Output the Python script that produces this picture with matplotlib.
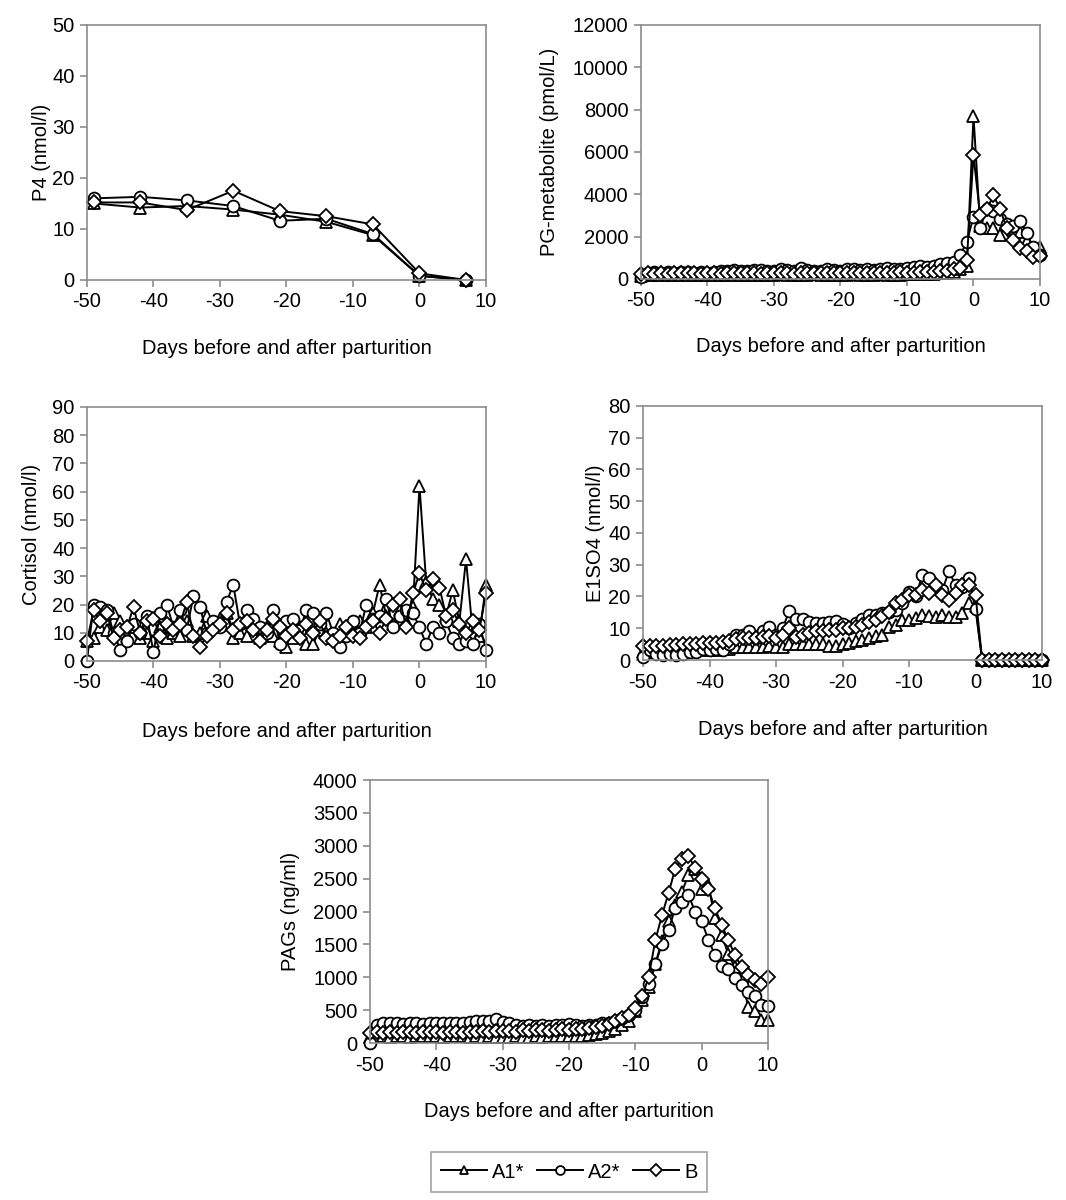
import matplotlib
matplotlib.use("Agg")
import matplotlib.pyplot as plt
from matplotlib.lines import Line2D

plt.rcParams['font.family'] = ['Liberation Sans', 'DejaVu Sans']
plt.rcParams['axes.unicode_minus'] = False

# -----------------------------
# Data
# -----------------------------
days = list(range(-50, 11))
days_p4 = [-49, -42, -35, -28, -21, -14, -7, 0, 7]

p4_a1 = [15.0, 14.2, 14.5, 13.8, 12.8, 11.4, 8.8, 0.8, 0.0]
p4_a2 = [16.0, 16.3, 15.6, 14.5, 11.6, 12.0, 9.0, 0.8, 0.0]
p4_b = [15.2, 15.2, 13.7, 17.5, 13.5, 12.5, 10.9, 1.3, 0.0]

pg_a1 = [150, 200, 180, 200, 170, 190, 200, 180, 200, 210,
         190, 200, 210, 180, 200, 190, 210, 200, 190, 200,
         210, 220, 200, 190, 210, 200, 220, 210, 200, 190,
         200, 210, 220, 200, 210, 190, 220, 210, 200, 210,
         220, 230, 220, 240, 250, 260, 300, 350, 450, 600,
         7700, 2500, 2400, 2400, 2100, 2600, 2300, 2200, 1800, 1400, 1500]
pg_a2 = [100, 300, 320, 280, 330, 300, 350, 320, 300, 340,
         280, 350, 400, 380, 420, 400, 380, 420, 430, 400,
         380, 450, 420, 400, 500, 420, 380, 400, 450, 430,
         400, 450, 480, 420, 450, 430, 480, 500, 450, 470,
         500, 550, 600, 580, 620, 700, 750, 800, 1130, 1750,
         2950, 2400, 3300, 3200, 2850, 2600, 2500, 2750, 2150, 1500, 1150]
pg_b = [250, 300, 250, 280, 250, 270, 260, 280, 270, 250,
        280, 260, 250, 270, 260, 280, 270, 260, 250, 270,
        260, 280, 270, 250, 260, 270, 280, 260, 270, 260,
        280, 270, 260, 280, 270, 260, 280, 270, 300, 320,
        280, 300, 320, 340, 350, 380, 400, 450, 500, 900,
        5850, 3000, 3300, 3950, 3300, 2400, 1850, 1450, 1300, 1050, 1100]

cort_a1 = [7, 8, 12, 11, 17, 14, 9, 12, 8, 10,
           7, 12, 8, 10, 9, 14, 9, 10, 16, 12,
           15, 17, 8, 10, 9, 13, 8, 12, 9, 7,
           5, 8, 12, 6, 6, 11, 10, 8, 13, 12,
           10, 14, 12, 17, 27, 16, 13, 18, 14, 19,
           62, 28, 22, 20, 16, 25, 14, 36, 10, 9, 27]
cort_a2 = [0, 20, 19, 18, 10, 4, 7, 13, 10, 16,
           3, 17, 20, 12, 18, 11, 23, 19, 10, 14,
           12, 21, 27, 13, 18, 15, 12, 10, 18, 6,
           14, 15, 11, 18, 17, 13, 17, 10, 5, 9,
           14, 10, 20, 15, 16, 22, 12, 16, 18, 17,
           12, 6, 12, 10, 14, 8, 6, 7, 6, 13, 4]
cort_b = [7, 18, 14, 17, 8, 11, 12, 19, 10, 14,
          15, 9, 13, 11, 13, 21, 9, 5, 9, 11,
          13, 17, 11, 13, 14, 11, 7, 11, 15, 12,
          9, 11, 8, 13, 10, 14, 8, 7, 9, 12,
          9, 8, 12, 14, 10, 15, 20, 22, 12, 24,
          31, 25, 29, 26, 16, 18, 13, 10, 14, 11, 24]

e1_a1 = [2.5, 2.5, 2.5, 2.5, 2.5, 3, 3, 3, 3, 3,
         3, 3, 3.5, 3.5, 4, 4, 4, 4, 4, 4.5,
         4, 4, 5, 5, 5, 5, 5, 5, 4.5, 4.5,
         5, 5.5, 6, 6.3, 7, 7.5, 8, 10.5, 11, 12.6,
         12.5, 13.1, 14.2, 14, 13.6, 14.3, 13.5, 13.6, 14.7, 17.8,
         17, 0, 0, 0, 0, 0, 0, 0, 0, 0, 0]
e1_a2 = [1, 3, 2, 1.5, 2, 1.5, 2, 2.5, 2.5, 3.5,
         3, 3.5, 3, 5, 8, 8, 9, 7, 9, 10.5,
         8, 10, 15.5, 13, 13, 12, 11.5, 11.5, 12, 12.4,
         11.4, 10, 11.6, 12.8, 14.2, 14.2, 14.9, 15, 15.9, 18,
         21.3, 20, 26.8, 25.7, 23, 22, 27.9, 23.6, 23, 25.7,
         16, 0, 0, 0, 0, 0, 0, 0, 0, 0, 0]
e1_b = [4.5, 4.5, 4.5, 4.5, 4.8, 4.8, 5, 5, 5, 5.3,
        5.5, 5.5, 5.8, 6, 6.5, 6.9, 7, 7, 7.4, 7.5,
        7, 8, 10, 7.4, 8, 8.4, 9, 9, 9.5, 9.5,
        10, 10, 10.5, 11, 12, 12.5, 14, 15, 18, 19,
        20.5, 20.5, 22, 21, 23.6, 20.5, 19, 21, 23.6, 23.6,
        20.5, 0, 0, 0, 0, 0, 0, 0, 0, 0, 0]

pag_a1 = [90, 110, 100, 95, 105, 100, 95, 100, 110, 100,
          100, 95, 100, 105, 100, 95, 100, 90, 100, 95,
          90, 95, 100, 95, 90, 100, 95, 100, 105, 100,
          110, 100, 110, 120, 130, 150, 180, 220, 280, 340,
          480, 650, 850, 1200, 1550, 1850, 2100, 2300, 2550, 2650,
          2350, 2400, 1900, 1650, 1350, 1150, 1000, 550, 480, 350, 350]
pag_a2 = [0, 270, 300, 300, 300, 290, 300, 300, 290, 300,
          300, 300, 300, 310, 310, 320, 330, 330, 340, 370,
          320, 300, 270, 260, 270, 260, 270, 260, 270, 270,
          290, 270, 260, 270, 280, 300, 310, 340, 380, 430,
          500, 700, 900, 1200, 1500, 1720, 2050, 2150, 2250, 2000,
          1850, 1570, 1340, 1170, 1120, 990, 890, 780, 710, 580, 570]
pag_b = [150, 170, 160, 170, 160, 170, 170, 160, 170, 170,
         170, 160, 170, 170, 160, 170, 170, 180, 170, 180,
         190, 180, 170, 200, 190, 200, 200, 190, 200, 210,
         200, 220, 220, 230, 250, 260, 290, 340, 380, 420,
         540, 710, 1000, 1560, 1940, 2280, 2650, 2800, 2850, 2660,
         2490, 2340, 2050, 1800, 1570, 1340, 1160, 1040, 960, 900, 1010]

labels = ['A1*', 'A2*', 'B']
markers = ['^', 'o', 'D']
msizes = [8.5, 8.5, 7.5]

FS = 14.5
GRAY = '#8c8c8c'


def draw_panel(rect, x, series, ymax, ystep, ylabel, ylab_x, xlab_y):
    ax = fig.add_axes(rect)
    for y, m, ms in zip(series, markers, msizes):
        ax.plot(x, y, color='black', lw=1.4, marker=m, ms=ms,
                mfc='white', mec='black', mew=1.3, clip_on=False)
    ax.set_xlim(-50, 10)
    ax.set_ylim(0, ymax)
    ax.set_xticks(range(-50, 11, 10))
    ax.set_yticks(range(0, ymax + 1, ystep))
    for s in ax.spines.values():
        s.set_color(GRAY)
        s.set_linewidth(1.2)
    ax.tick_params(direction='out', length=5, width=1.2, color=GRAY,
                   labelsize=FS, pad=4)
    ax.set_ylabel(ylabel, fontsize=FS)
    ax.yaxis.set_label_coords(ylab_x, 0.5)
    ax.set_xlabel('Days before and after parturition', fontsize=FS)
    ax.xaxis.set_label_coords(0.5, xlab_y)
    return ax


fig = plt.figure(figsize=(10.66, 12), dpi=100)

draw_panel([0.0816, 0.7667, 0.3743, 0.2125], days_p4, [p4_a1, p4_a2, p4_b],
           50, 10, 'P4 (nmol/l)', -0.09, -0.23)
draw_panel([0.6013, 0.7675, 0.3743, 0.2117], days, [pg_a1, pg_a2, pg_b],
           12000, 2000, 'PG-metabolite (pmol/L)', -0.205, -0.23)
draw_panel([0.0816, 0.4492, 0.3743, 0.2117], days, [cort_a1, cort_a2, cort_b],
           90, 10, 'Cortisol (nmol/l)', -0.115, -0.24)
draw_panel([0.6032, 0.4500, 0.3743, 0.2117], days, [e1_a1, e1_a2, e1_b],
           80, 10, 'E1SO4 (nmol/l)', -0.095, -0.235)
draw_panel([0.3471, 0.1308, 0.3734, 0.2192], days, [pag_a1, pag_a2, pag_b],
           4000, 500, 'PAGs (ng/ml)', -0.175, -0.225)

handles = [Line2D([], [], color='black', lw=1.4, marker=m, ms=ms * 0.75,
                  mfc='white', mec='black', mew=1.3)
           for m, ms in zip(markers, msizes)]
leg = fig.legend(handles, labels, loc='center', bbox_to_anchor=(0.534, 0.0233),
                 ncol=3, fontsize=FS, frameon=True, fancybox=False,
                 handlelength=2.3, columnspacing=0.6, handletextpad=0.25,
                 borderpad=0.5)
leg.get_frame().set_edgecolor(GRAY)
leg.get_frame().set_linewidth(1.2)

fig.savefig('out.png', dpi=100)
